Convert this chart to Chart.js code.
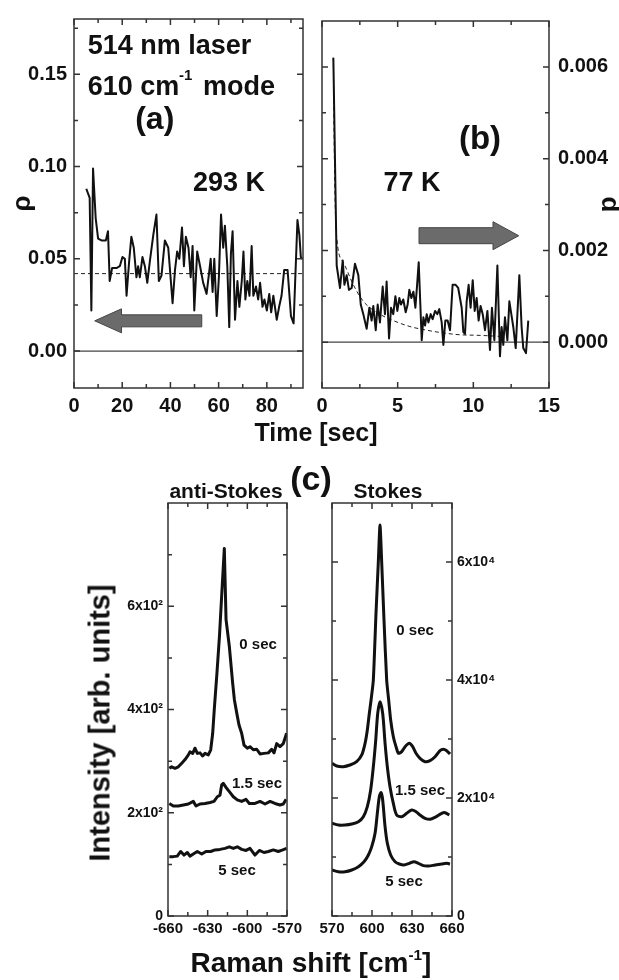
<!DOCTYPE html>
<html lang="en">
<head>
<meta charset="UTF-8">
<title>Photo-bleaching of the 610 cm-1 mode</title>
<script src="https://cdn.jsdelivr.net/npm/chart.js"></script>
<style>
  body { margin: 0; background: #fff; font-family: "Liberation Sans", Arial, sans-serif; }
  #page { position: relative; width: 619px; height: 980px; overflow: hidden; }
  canvas { position: absolute; }
  .lbl { position: absolute; font-weight: bold; color: #111; white-space: nowrap; line-height: 1; transform: translate(-50%, -50%); }
  .lbl sup { font-size: 0.55em; vertical-align: 0.75em; }
</style>
</head>
<body>
<div id="page">
  <canvas id="chartA" width="310" height="420" style="left:0;top:0"></canvas>
  <canvas id="chartB" width="309" height="420" style="left:310px;top:0"></canvas>
  <canvas id="chartCL" width="250" height="500" style="left:60px;top:480px"></canvas>
  <canvas id="chartCR" width="307" height="500" style="left:312px;top:480px"></canvas>

  <div class="lbl" style="left:316px;top:432px;font-size:25px">Time [sec]</div>
  <div class="lbl" style="left:311px;top:478px;font-size:34px">(c)</div>
  <div class="lbl" style="left:226px;top:490px;font-size:21px">anti-Stokes</div>
  <div class="lbl" style="left:388px;top:490px;font-size:21px">Stokes</div>
  <div class="lbl" style="left:311px;top:962px;font-size:28px">Raman shift [cm<sup>-1</sup>]</div>
  <div class="lbl" style="left:100px;top:723px;font-size:29px;transform:translate(-50%,-50%) rotate(-90deg)">Intensity [arb. units]</div>
</div>

<script>
// ---- (a) 293 K, rho vs time ----
const timeA = [5.1, 6.5, 7.2, 7.9, 9.0, 10.0, 11.4, 13.2, 14.1, 14.8, 15.8, 17.6, 19.0, 20.1, 21.1,
  21.8, 22.9, 23.8, 24.8, 25.9, 26.6, 27.3, 28.4, 29.4, 30.4, 31.5, 32.9, 34.2, 35.2, 36.3,
  37.7, 39.1, 40.9, 41.9, 42.8, 43.7, 44.8, 45.6, 46.4, 47.5, 48.4, 49.2, 49.9, 51.1, 52.3,
  53.6, 55.0, 56.0, 56.7, 57.5, 58.2, 59.2, 60.1, 61.0, 61.9, 62.6, 63.6, 64.4, 65.1, 65.8,
  66.8, 67.8, 68.6, 69.6, 70.3, 71.1, 71.9, 72.8, 73.7, 74.4, 75.5, 76.4, 77.2, 78.2, 79.0,
  80.0, 81.0, 81.8, 82.7, 84.1, 85.1, 86.1, 87.2, 88.6, 90.0, 91.1, 92.7, 93.5, 94.1, 94.6];
const rhoA = [0.088, 0.083, 0.022, 0.099, 0.072, 0.061, 0.060, 0.060, 0.065, 0.038, 0.045, 0.045, 0.046, 0.051, 0.050,
  0.030, 0.049, 0.062, 0.056, 0.040, 0.046, 0.040, 0.051, 0.046, 0.037, 0.049, 0.063, 0.074, 0.038, 0.041,
  0.060, 0.056, 0.026, 0.044, 0.054, 0.050, 0.067, 0.046, 0.062, 0.056, 0.040, 0.057, 0.022, 0.054, 0.046,
  0.037, 0.031, 0.042, 0.050, 0.032, 0.050, 0.019, 0.040, 0.074, 0.056, 0.068, 0.046, 0.013, 0.053, 0.065,
  0.017, 0.038, 0.024, 0.038, 0.054, 0.028, 0.038, 0.030, 0.057, 0.030, 0.035, 0.028, 0.037, 0.024, 0.028,
  0.022, 0.031, 0.021, 0.030, 0.017, 0.024, 0.030, 0.044, 0.044, 0.019, 0.015, 0.071, 0.063, 0.051, 0.050];
const fitTimeA = [0, 95];
const fitRhoA = [0.042, 0.042];
const zeroTimeA = [0, 95];
const zeroRhoA = [0, 0];
const xTicksA = [0, 20, 40, 60, 80];
const xMinorA = [10, 30, 50, 70, 90];
const yTicksA = [0, 0.05, 0.10, 0.15];
const yMinorA = [0.025, 0.075, 0.125, 0.175];

// ---- (b) 77 K, d vs time ----
const timeB = [0.75, 0.97, 1.19, 1.37, 1.48, 1.63, 1.78, 1.96, 2.18, 2.40, 2.56, 2.73, 2.95, 3.13, 3.28,
  3.39, 3.55, 3.68, 3.83, 4.01, 4.16, 4.27, 4.43, 4.56, 4.71, 4.85, 4.98, 5.11, 5.22, 5.37,
  5.53, 5.66, 5.77, 5.90, 6.04, 6.17, 6.30, 6.39, 6.59, 6.70, 6.81, 6.92, 7.03, 7.18, 7.31,
  7.47, 7.62, 7.75, 7.91, 8.02, 8.15, 8.30, 8.46, 8.63, 8.83, 9.00, 9.23, 9.34, 9.45, 9.56,
  9.69, 9.82, 9.96, 10.09, 10.22, 10.35, 10.48, 10.62, 10.77, 10.93, 11.10, 11.23, 11.39, 11.59, 11.76,
  11.87, 11.98, 12.09, 12.25, 12.38, 12.51, 12.64, 12.80, 13.04, 13.19, 13.30, 13.48, 13.63];
const dB = [0.0062, 0.00167, 0.00118, 0.00178, 0.00125, 0.00146, 0.00114, 0.00118, 0.00171, 0.00146, 0.00082, 0.00061, 0.00029, 0.00075, 0.00047,
  0.00079, 0.00026, 0.00082, 0.00043, 0.00121, 0.00061, 0.00132, 0.00008, 0.00075, 0.00061, 0.00100, 0.00068, 0.00096, 0.00082, 0.00093,
  0.00065, 0.00082, 0.00114, 0.00096, 0.00110, 0.00075, 0.00132, 0.00174, 0.00004, 0.00054, 0.00036, 0.00061, 0.00043, 0.00061, 0.00050,
  0.00068, 0.00061, 0.00072, 0.00043, -0.00006, 0.00047, 0.00047, 0.00026, 0.00125, 0.00125, 0.00118, 0.00075, 0.00022, 0.00018, 0.00089,
  0.00125, 0.00075, 0.00135, 0.00068, 0.00096, 0.00047, 0.00079, 0.00061, 0.00026, 0.00068, -0.00017, 0.00075, 0.00004, 0.00167, -0.00031,
  0.00033, -0.00006, 0.00054, 0.00004, 0.00089, 0.00061, 0.00033, -0.00013, 0.00146, 0.00033, -0.00013, -0.00024, 0.00047];
const fitTimeB = [0.75, 0.82, 0.93, 1.41, 2.07, 2.73, 3.61, 4.71, 5.81, 6.92, 8.02, 9.12, 10.2, 11.5, 12.0];
const fitDB = [0.0062, 0.0040, 0.00245, 0.00174, 0.00125, 0.00089, 0.00065, 0.00047, 0.00034, 0.00026, 0.00020, 0.00016, 0.00015, 0.00013, 0.00012];
const zeroTimeB = [0, 15];
const zeroDB = [0, 0];
const xTicksB = [0, 5, 10, 15];
const xMinorB = [2.5, 7.5, 12.5];
const yTicksB = [0, 0.002, 0.004, 0.006];
const yMinorB = [0.001, 0.003, 0.005];

// ---- (c) anti-Stokes spectra ----
const shiftAS0 = [-659, -657.2, -654.7, -652.2, -649.6, -647.1, -644.6, -643.4, -641.3, -639.6, -637.8, -635.8, -633.8, -632, -629.5,
  -627.7, -626.2, -625, -623, -621, -619.2, -617.4, -616.1, -613.6, -611.1, -609.8, -608, -606.3, -604.3, -602.5,
  -600, -598, -595.5, -592.9, -590.4, -587.4, -584.1, -581.6, -579.8, -577.8, -575.3, -572.8, -570.3];
const intAS0 = [286, 289, 286, 289, 296, 303, 312, 318, 315, 325, 315, 316, 310, 315, 312,
  322, 354, 400, 470, 545, 630, 712, 574, 522, 451, 419, 393, 370, 354, 331,
  325, 328, 322, 323, 314, 315, 316, 323, 316, 334, 328, 334, 354];
const shiftAS15 = [-659, -656, -652.2, -648.4, -644.6, -640.9, -638.8, -635.8, -632, -628.2, -625.2, -622.7, -620.7, -619.4, -618.2,
  -616.1, -613.6, -610.6, -607.6, -604.3, -601, -598.5, -594.2, -590.4, -586.6, -582.8, -579.1, -575.3, -572.8, -570.7];
const intAS15 = [218, 213, 213, 215, 217, 222, 213, 217, 218, 220, 222, 231, 234, 254, 257,
  249, 241, 231, 225, 222, 226, 218, 218, 222, 217, 222, 218, 215, 217, 226];
const shiftAS5 = [-659, -656, -653, -650.4, -647.9, -645.4, -643.4, -640.3, -637.8, -634.5, -631.3, -627.7, -624.5, -620.7, -616.9,
  -613.6, -610.6, -607.6, -604.3, -601, -598, -594.2, -590.9, -587.4, -584.1, -580.3, -576.6, -573.2, -570.3];
const intAS5 = [115, 115, 116, 125, 118, 123, 116, 121, 125, 120, 125, 125, 128, 129, 131,
  134, 131, 134, 129, 127, 131, 118, 127, 123, 125, 128, 125, 128, 131];
const xTicksCL = [-660, -630, -600, -570];
const xMinorCL = [-645, -615, -585];
const yTicksCL = [0, 200, 400, 600];
const yLabelsCL = ['0', '2x10²', '4x10²', '6x10²'];
const yMinorCL = [100, 300, 500, 700];

// ---- (c) Stokes spectra ----
const shiftS0 = [570, 573.5, 578.5, 583.5, 588.5, 592.3, 594.8, 596.5, 598, 599.3, 601, 603, 604.7, 606, 607.3,
  609, 611, 612.5, 614, 616, 618, 619.8, 622.3, 624.8, 628, 630.5, 633, 636, 639.8, 643.5,
  647.3, 651, 653.5, 656, 658.5];
const intS0 = [25880, 25420, 25300, 25590, 26150, 27290, 29270, 31530, 34360, 36610, 40000, 51300, 59780, 66270, 59780,
  50170, 40000, 36610, 33220, 30390, 28700, 27580, 27850, 28700, 29270, 28700, 27580, 26730, 26150, 26320,
  27000, 28020, 28250, 28020, 27460];
const shiftS15 = [570, 574.8, 579.8, 584.8, 589.8, 593.5, 596.5, 599, 601, 602.8, 604.3, 606, 608, 609.8, 611.5,
  613.5, 616, 618.5, 622.3, 626, 629.8, 633, 636, 639.8, 643.5, 647.3, 652.3, 654.8, 658];
const intS15 = [15710, 15420, 15420, 15590, 15980, 16830, 18530, 21360, 25300, 29830, 34360, 36300, 34360, 29270, 25300,
  21920, 19100, 17120, 16830, 17410, 17970, 17680, 17120, 16560, 16390, 16730, 17410, 17510, 17120];
const shiftS5 = [570, 574.8, 579.8, 584.8, 589.8, 594, 597.3, 599.8, 602.3, 604, 605.5, 606.8, 608, 609.8, 611.5,
  614, 617.3, 620.5, 624, 628, 631.5, 634.8, 638.5, 642.3, 647.3, 652.3, 656, 658.5];
const intS5 = [7800, 7510, 7510, 7800, 8360, 9200, 10340, 11750, 14020, 17410, 20220, 20900, 19660, 15140, 12320,
  10340, 9200, 8810, 8640, 8930, 9200, 8930, 8530, 8470, 8640, 8810, 8930, 8810];
const xTicksCR = [570, 600, 630, 660];
const xMinorCR = [585, 615, 645];
const yTicksCR = [0, 20000, 40000, 60000];
const yLabelsCR = ['0', '2x10⁴', '4x10⁴', '6x10⁴'];
const yMinorCR = [10000, 30000, 50000];

const FONT = '"Liberation Sans", Arial, sans-serif';
Chart.defaults.font.family = FONT;
Chart.defaults.color = '#111';

const pts = (xs, ys) => xs.map((x, i) => ({ x, y: ys[i] }));

// box frame with inward ticks on all four sides
function framePlugin(xMajor, xMinor, yMajor, yMinor) {
  return {
    id: 'frame',
    afterDatasetsDraw(chart) {
      const { ctx, chartArea: a, scales: { x, y } } = chart;
      ctx.save();
      ctx.strokeStyle = '#333';
      ctx.lineWidth = 1.5;
      ctx.beginPath();
      const mark = (vals, len, isX) => vals.forEach(v => {
        if (isX) {
          const p = x.getPixelForValue(v);
          ctx.moveTo(p, a.bottom); ctx.lineTo(p, a.bottom - len);
          ctx.moveTo(p, a.top); ctx.lineTo(p, a.top + len);
        } else {
          const p = y.getPixelForValue(v);
          ctx.moveTo(a.left, p); ctx.lineTo(a.left + len, p);
          ctx.moveTo(a.right, p); ctx.lineTo(a.right - len, p);
        }
      });
      mark(xMajor, 6, true); mark(xMinor, 4, true);
      mark(yMajor, 6, false); mark(yMinor, 4, false);
      ctx.stroke();
      ctx.strokeRect(a.left, a.top, a.right - a.left, a.bottom - a.top);
      ctx.restore();
    }
  };
}

// text notes and block arrows, placed in data coordinates
function notesPlugin(texts, arrows) {
  return {
    id: 'notes',
    afterDraw(chart) {
      const { ctx, scales: { x, y } } = chart;
      ctx.save();
      arrows.forEach(ar => {
        const tail = x.getPixelForValue(ar.tail);
        const base = x.getPixelForValue(ar.base);
        const tip = x.getPixelForValue(ar.tip);
        const cy = y.getPixelForValue(ar.y);
        ctx.beginPath();
        ctx.moveTo(tail, cy - ar.body);
        ctx.lineTo(base, cy - ar.body);
        ctx.lineTo(base, cy - ar.head);
        ctx.lineTo(tip, cy);
        ctx.lineTo(base, cy + ar.head);
        ctx.lineTo(base, cy + ar.body);
        ctx.lineTo(tail, cy + ar.body);
        ctx.closePath();
        ctx.fillStyle = '#6b6b6b';
        ctx.fill();
        ctx.strokeStyle = '#444';
        ctx.lineWidth = 1;
        ctx.stroke();
      });
      texts.forEach(t => {
        ctx.font = 'bold ' + t.size + 'px ' + FONT;
        ctx.fillStyle = '#111';
        ctx.textAlign = t.align || 'center';
        ctx.textBaseline = 'middle';
        ctx.fillText(t.text, x.getPixelForValue(t.x), y.getPixelForValue(t.y));
      });
      ctx.restore();
    }
  };
}

function axis(pos, min, max, ticks, fmt, size, pad, fit) {
  const horiz = pos === 'bottom';
  return {
    type: 'linear', position: pos, min, max,
    grid: { display: false, drawTicks: false },
    border: { display: false },
    afterBuildTicks: s => { s.ticks = ticks.map(v => ({ value: v })); },
    afterFit: s => { if (horiz) s.height = fit; else s.width = fit; },
    ticks: { font: { size, weight: 'bold' }, padding: pad, callback: fmt, maxRotation: 0, autoSkip: false }
  };
}

const baseOpts = {
  responsive: false,
  animation: false,
  elements: { point: { radius: 0 }, line: { borderJoinStyle: 'round' } },
  plugins: { legend: { display: false }, tooltip: { enabled: false } }
};

// (a)
const yA = axis('left', -0.02, 0.18, yTicksA, v => v.toFixed(2), 20, 7, 74);
yA.title = { display: true, text: 'ρ', font: { size: 26, weight: 'bold', lineHeight: 1 }, padding: { top: 10, bottom: 0 } };
new Chart(document.getElementById('chartA'), {
  type: 'line',
  data: { datasets: [
    { data: pts(timeA, rhoA), borderColor: '#111', borderWidth: 2 },
    { data: pts(fitTimeA, fitRhoA), borderColor: '#222', borderWidth: 1, borderDash: [4, 3] },
    { data: pts(zeroTimeA, zeroRhoA), borderColor: '#444', borderWidth: 1.2 }
  ] },
  options: Object.assign({}, baseOpts, {
    layout: { padding: { top: 15, right: 7, left: 0, bottom: 0 } },
    scales: {
      x: axis('bottom', 0, 95, xTicksA, v => String(v), 20, 6, 32),
      y: yA
    }
  }),
  plugins: [
    framePlugin(xTicksA, xMinorA, yTicksA, yMinorA),
    notesPlugin([
      { text: '514 nm laser', x: 5.7, y: 0.165, size: 27, align: 'left' },
      { text: '610 cm', x: 5.7, y: 0.143, size: 27, align: 'left' },
      { text: '-1', x: 46.3, y: 0.1494, size: 15 },
      { text: 'mode', x: 53.5, y: 0.143, size: 27, align: 'left' },
      { text: '(a)', x: 33.5, y: 0.1253, size: 32 },
      { text: '293 K', x: 64.3, y: 0.091, size: 27 }
    ], [
      { tail: 53, base: 19.7, tip: 8.6, y: 0.0164, body: 6, head: 12 }
    ])
  ]
});

// (b)
const yB = axis('right', -0.001, 0.007, yTicksB, v => v.toFixed(3), 20, 9, 70);
yB.title = { display: true, text: 'd', font: { size: 26, weight: 'bold', lineHeight: 1 }, padding: { top: -3, bottom: 0 } };
new Chart(document.getElementById('chartB'), {
  type: 'line',
  data: { datasets: [
    { data: pts(timeB, dB), borderColor: '#111', borderWidth: 2 },
    { data: pts(fitTimeB, fitDB), borderColor: '#222', borderWidth: 1, borderDash: [4, 3], cubicInterpolationMode: 'monotone' },
    { data: pts(zeroTimeB, zeroDB), borderColor: '#444', borderWidth: 1.2 }
  ] },
  options: Object.assign({}, baseOpts, {
    layout: { padding: { top: 15, right: 0, left: 12, bottom: 0 } },
    scales: {
      x: axis('bottom', 0, 15, xTicksB, v => String(v), 20, 6, 32),
      y: yB
    }
  }),
  plugins: [
    framePlugin(xTicksB, xMinorB, yTicksB, yMinorB),
    notesPlugin([
      { text: '(b)', x: 10.44, y: 0.00441, size: 33 },
      { text: '77 K', x: 5.95, y: 0.00346, size: 27 }
    ], [
      { tail: 6.41, base: 11.3, tip: 13.0, y: 0.00232, body: 8, head: 14 }
    ])
  ]
});

// (c) anti-Stokes
new Chart(document.getElementById('chartCL'), {
  type: 'line',
  data: { datasets: [
    { data: pts(shiftAS0, intAS0), borderColor: '#111', borderWidth: 3 },
    { data: pts(shiftAS15, intAS15), borderColor: '#111', borderWidth: 3 },
    { data: pts(shiftAS5, intAS5), borderColor: '#111', borderWidth: 3 }
  ] },
  options: Object.assign({}, baseOpts, {
    layout: { padding: { top: 23, right: 23, left: 0, bottom: 0 } },
    scales: {
      x: axis('bottom', -660, -570, xTicksCL, v => String(v), 15, 4, 64),
      y: axis('left', 0, 800, yTicksCL, (v, i) => yLabelsCL[i], 14, 5, 108)
    }
  }),
  plugins: [
    framePlugin(xTicksCL, xMinorCL, yTicksCL, yMinorCL),
    notesPlugin([
      { text: '0 sec', x: -591.9, y: 525, size: 15 },
      { text: '1.5 sec', x: -592.7, y: 256, size: 15 },
      { text: '5 sec', x: -607.8, y: 87, size: 15 }
    ], [])
  ]
});

// (c) Stokes
new Chart(document.getElementById('chartCR'), {
  type: 'line',
  data: { datasets: [
    { data: pts(shiftS0, intS0), borderColor: '#111', borderWidth: 3, tension: 0.2 },
    { data: pts(shiftS15, intS15), borderColor: '#111', borderWidth: 3, tension: 0.3 },
    { data: pts(shiftS5, intS5), borderColor: '#111', borderWidth: 3, tension: 0.3 }
  ] },
  options: Object.assign({}, baseOpts, {
    layout: { padding: { top: 23, right: 0, left: 20, bottom: 0 } },
    scales: {
      x: axis('bottom', 570, 660, xTicksCR, v => String(v), 15, 4, 64),
      y: axis('right', 0, 70000, yTicksCR, (v, i) => yLabelsCR[i], 14, 5, 167)
    }
  }),
  plugins: [
    framePlugin(xTicksCR, xMinorCR, yTicksCR, yMinorCR),
    notesPlugin([
      { text: '0 sec', x: 632.3, y: 48300, size: 15 },
      { text: '1.5 sec', x: 636, y: 21190, size: 15 },
      { text: '5 sec', x: 624, y: 5760, size: 15 }
    ], [])
  ]
});
</script>
</body>
</html>
